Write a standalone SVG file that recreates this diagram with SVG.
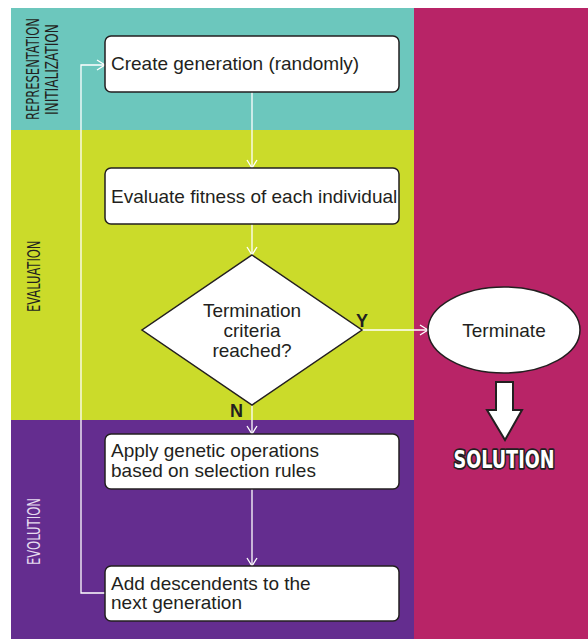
<svg xmlns="http://www.w3.org/2000/svg" width="588" height="639" viewBox="0 0 588 639">
  <defs>
    <marker id="chev" markerUnits="userSpaceOnUse" markerWidth="12" markerHeight="12" refX="8" refY="5" orient="auto" overflow="visible">
      <path d="M0,0 L8,5 L0,10" fill="none" stroke="#ffffff" stroke-width="1.3"/>
    </marker>
    <style>
      .box { fill: #ffffff; stroke: #231f20; stroke-width: 1.5; }
      .txt { font-family: "Liberation Sans", Arial, sans-serif; font-size: 19px; fill: #231f20; }
      .lane { font-family: "DejaVu Sans Condensed", "DejaVu Sans", sans-serif; font-size: 17.5px; }
      .yn { font-family: "Liberation Sans", Arial, sans-serif; font-size: 18px; font-weight: bold; fill: #231f20; }
      .conn { fill: none; stroke: #ffffff; stroke-width: 1.3; marker-end: url(#chev); }
    </style>
  </defs>
  <rect width="588" height="639" fill="#ffffff"/>
  <g id="lanes">
    <rect x="11" y="8" width="403" height="122" fill="#6cc7bd"/>
    <rect x="11" y="130" width="403" height="290" fill="#cbdb2a"/>
    <rect x="11" y="420" width="403" height="219" fill="#642d8f"/>
    <rect x="414" y="8" width="174" height="631" fill="#b82467"/>
    <text class="lane" fill="#231f20" transform="translate(39,120) rotate(-90) scale(0.733,1)">REPRESENTATION</text>
    <text class="lane" fill="#231f20" transform="translate(58,115) rotate(-90) scale(0.77,1)">INITIALIZATION</text>
    <text class="lane" fill="#231f20" transform="translate(39.5,312) rotate(-90) scale(0.733,1)">EVALUATION</text>
    <text class="lane" fill="#e6dcef" transform="translate(39.5,565) rotate(-90) scale(0.74,1)">EVOLUTION</text>
  </g>
  <g id="connectors">
    <path class="conn" d="M252,92 V168"/>
    <path class="conn" d="M252,224 V255"/>
    <path class="conn" d="M252,405 V434"/>
    <path class="conn" d="M252,489 V566"/>
    <path class="conn" d="M362,330 H428"/>
    <path class="conn" d="M105,593 H81 V65 H105"/>
  </g>
  <g id="create">
    <rect class="box" x="105" y="36" width="294" height="56" rx="6"/>
    <text class="txt" x="111" y="70">Create generation (randomly)</text>
  </g>
  <g id="evaluate">
    <rect class="box" x="105" y="168" width="294" height="56" rx="6"/>
    <text class="txt" x="111" y="203">Evaluate fitness of each individual</text>
  </g>
  <g id="decision">
    <polygon class="box" points="252,255 362,330 252,405 142,330"/>
    <text class="txt" text-anchor="middle" x="252" y="317">Termination</text>
    <text class="txt" text-anchor="middle" x="252" y="337">criteria</text>
    <text class="txt" text-anchor="middle" x="252" y="357">reached?</text>
    <text class="yn" x="356" y="327">Y</text>
    <text class="yn" x="230" y="417">N</text>
  </g>
  <g id="apply">
    <rect class="box" x="105" y="434" width="294" height="55" rx="6"/>
    <text class="txt" x="111" y="457">Apply genetic operations</text>
    <text class="txt" x="111" y="477">based on selection rules</text>
  </g>
  <g id="add">
    <rect class="box" x="105" y="566" width="294" height="55" rx="6"/>
    <text class="txt" x="111" y="590">Add descendents to the</text>
    <text class="txt" x="111" y="609">next generation</text>
  </g>
  <g id="terminate">
    <ellipse class="box" cx="504" cy="330" rx="76" ry="43"/>
    <text class="txt" text-anchor="middle" x="504" y="337">Terminate</text>
  </g>
  <g id="solution">
    <polygon points="496,382 513,382 513,410 522,410 505,440 487,410 496,410" fill="#ffffff" stroke="#231f20" stroke-width="2" stroke-linejoin="miter"/>
    <text x="504" y="468" text-anchor="middle" textLength="101" lengthAdjust="spacingAndGlyphs" font-family="'DejaVu Sans Condensed', 'DejaVu Sans', sans-serif" font-weight="bold" font-size="24" fill="#ffffff" stroke="#231f20" stroke-width="3.5" stroke-linejoin="round" paint-order="stroke">SOLUTION</text>
  </g>
</svg>
